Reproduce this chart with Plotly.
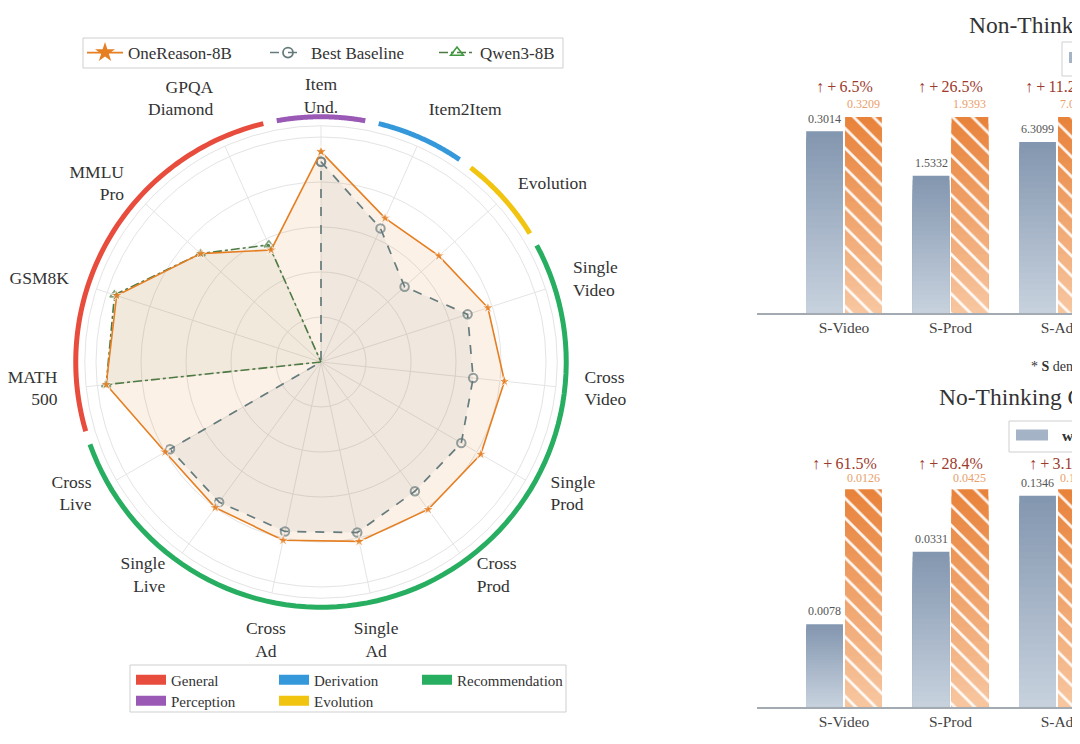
import numpy as np
import plotly.graph_objects as go

FONT = "Liberation Serif"

# ---------------- Radar data (normalised scores, 1.0 = outer grid ring) ----------------
radar_labels = ["Item<br>Und.", "Item2Item", "Evolution", "Single<br>Video", "Cross<br>Video",
                "Single<br>Prod", "Cross<br>Prod", "Single<br>Ad", "Cross<br>Ad", "Single<br>Live",
                "Cross<br>Live", "MATH<br>500", "GSM8K", "MMLU<br>Pro", "GPQA<br>Diamond"]
onereason = [0.935, 0.70, 0.705, 0.78, 0.82, 0.82, 0.81, 0.815, 0.81, 0.80, 0.80, 0.96, 0.955, 0.72, 0.545]
best_baseline = [0.89, 0.65, 0.50, 0.685, 0.68, 0.72, 0.71, 0.775, 0.77, 0.77, 0.775, 0, 0, 0, 0]
qwen3 = [0, 0, 0, 0, 0, 0, 0, 0, 0, 0, 0, 0.96, 0.965, 0.72, 0.57]

group_names = ["General", "Derivation", "Recommendation", "Perception", "Evolution"]
group_members = {
    "Perception": [0],
    "Derivation": [1],
    "Evolution": [2],
    "Recommendation": [3, 4, 5, 6, 7, 8, 9, 10],
    "General": [11, 12, 13, 14],
}

# ---------------- Bar data ----------------
bar_categories = ["S-Video", "S-Prod", "S-Ad"]
nt_base_vals = [0.3014, 1.5332, 6.3099]
nt_ours_vals = [0.3209, 1.9393, 7.0166]
nt_gain = [6.5, 26.5, 11.2]
nt_base_h = [0.927, 0.70, 0.873]      # relative bar heights as drawn
nt_ours_h = [1.0, 1.0, 1.0]

no_base_vals = [0.0078, 0.0331, 0.1346]
no_ours_vals = [0.0126, 0.0425, 0.1388]
no_gain = [61.5, 28.4, 3.1]
no_base_h = [0.379, 0.713, 0.97]
no_ours_h = [1.0, 1.0, 1.0]

bar_series_names = ["w/o Reasoning", "w/ Reasoning"]

# ---------------- layout helpers ----------------
W, H = 1080, 744
OFF = 8  # the page body margin shifts the figure by 8px; positions below are screen pixels


def px(xs):
    return (xs - OFF) / W


def py(ys):
    return 1 - (ys - OFF) / H


C_ONE = "#E67E22"
C_BASE = "#667B7D"
C_QWEN = "#4E7A43"
GROUP_COLORS = {"General": "#E74C3C", "Perception": "#9B59B6", "Derivation": "#3498DB",
                "Evolution": "#F1C40F", "Recommendation": "#27AE60"}

fig = go.Figure()

n = len(radar_labels)
theta = [i * 360.0 / n for i in range(n)]
step = 360.0 / n

# spokes
sr, st = [], []
for t in theta:
    sr += [0, 1.05, None]
    st += [t, t, None]
fig.add_trace(go.Scatterpolar(r=sr, theta=st, mode="lines", line=dict(color="#e4e4e4", width=1),
                              showlegend=False, hoverinfo="skip"))


def closed(v):
    return list(v) + [v[0]]


tc = theta + [theta[0]]
# fills
fig.add_trace(go.Scatterpolar(r=closed(onereason), theta=tc, fill="toself", mode="none",
                              fillcolor="rgba(230,126,34,0.11)", showlegend=False, hoverinfo="skip"))
fig.add_trace(go.Scatterpolar(r=closed(best_baseline), theta=tc, fill="toself", mode="none",
                              fillcolor="rgba(102,123,125,0.08)", showlegend=False, hoverinfo="skip"))
fig.add_trace(go.Scatterpolar(r=closed(qwen3), theta=tc, fill="toself", mode="none",
                              fillcolor="rgba(78,122,67,0.06)", showlegend=False, hoverinfo="skip"))


def msize(v, s):
    return [s if x > 0 else 0 for x in closed(v)]


fig.add_trace(go.Scatterpolar(r=closed(best_baseline), theta=tc, mode="lines+markers",
                              line=dict(color=C_BASE, width=1.7, dash="dash"),
                              marker=dict(symbol="circle-open", size=msize(best_baseline, 8.5), color=C_BASE,
                                          line=dict(width=2)),
                              showlegend=False))
fig.add_trace(go.Scatterpolar(r=closed(qwen3), theta=tc, mode="lines+markers",
                              line=dict(color=C_QWEN, width=1.6, dash="dashdot"),
                              marker=dict(symbol="triangle-up-open", size=msize(qwen3, 8), color=C_QWEN,
                                          line=dict(width=1.6)),
                              showlegend=False))
fig.add_trace(go.Scatterpolar(r=closed(onereason), theta=tc, mode="lines+markers",
                              line=dict(color=C_ONE, width=1.6),
                              marker=dict(symbol="star", size=msize(onereason, 9), color=C_ONE),
                              showlegend=False))


# category labels around the radar
def label_pos(t):
    if t < 12 or t > 348:
        return "middle center"
    if t < 36:
        return "top right"
    if t < 156:
        return "middle right"
    if t < 204:
        return "bottom center"
    if t < 324:
        return "middle left"
    return "top left"


fig.add_trace(go.Scatterpolar(r=[1.178] * n, theta=theta, mode="text", text=radar_labels,
                              textposition=[label_pos(t) for t in theta],
                              textfont=dict(family=FONT, size=17.5, color="#333333"),
                              showlegend=False, hoverinfo="skip"))

# legend entries for the series
fig.add_trace(go.Scatterpolar(r=[None], theta=[None], mode="lines+markers", name="OneReason-8B",
                              line=dict(color=C_ONE, width=1.8), legendwidth=132,
                              marker=dict(symbol="star", size=15, color=C_ONE), legend="legend"))
fig.add_trace(go.Scatterpolar(r=[None], theta=[None], mode="lines+markers", name="Best Baseline",
                              line=dict(color=C_BASE, width=1.6, dash="dash"), legendwidth=118,
                              marker=dict(symbol="circle-open", size=10, color=C_BASE, line=dict(width=1.8)),
                              legend="legend"))
fig.add_trace(go.Scatterpolar(r=[None], theta=[None], mode="lines+markers", name="Qwen3-8B",
                              line=dict(color=C_QWEN, width=1.6, dash="dashdot"), legendwidth=80,
                              marker=dict(symbol="triangle-up-open", size=11, color="#3f9a3f",
                                          line=dict(width=1.6)),
                              legend="legend"))

# group arcs
GAP = 1.6
for g in group_names:
    idx = group_members[g]
    a0 = idx[0] * step - step / 2 + GAP
    a1 = idx[-1] * step + step / 2 - GAP
    th = np.linspace(a0, a1, 80)
    fig.add_trace(go.Scatterpolar(r=[1.09] * len(th), theta=th, mode="lines",
                                  line=dict(color=GROUP_COLORS[g], width=5),
                                  showlegend=False, hoverinfo="skip"))

for k, g in enumerate(group_names):
    fig.add_trace(go.Scatterpolar(r=[None], theta=[None], mode="lines", name=g,
                                  line=dict(color=GROUP_COLORS[g], width=10),
                                  legendwidth=98 if k % 3 < 2 else 125,
                                  legend="legend2" if k < 3 else "legend3"))

RMAX = 1.35
PX_PER_UNIT = 225.0
CX, CY = 321.0, 362.0
P = RMAX * PX_PER_UNIT
fig.update_layout(
    polar=dict(
        domain=dict(x=[px(CX - P), px(CX + P)], y=[py(CY + P), py(CY - P)]),
        bgcolor="rgba(0,0,0,0)",
        radialaxis=dict(range=[0, RMAX], tickmode="array", tickvals=[0.2, 0.4, 0.6, 0.8, 1.0, 1.05],
                        showticklabels=False, showline=False, ticks="", gridcolor="#e4e4e4", gridwidth=1),
        angularaxis=dict(type="linear", thetaunit="degrees", direction="clockwise", rotation=90,
                         tickmode="array", tickvals=theta, showticklabels=False, showgrid=False,
                         showline=False, ticks=""),
    )
)

# ---------------- Bars ----------------
NSEG = 30
GRAY_TOP, GRAY_BOT = (130, 150, 175), (200, 210, 222)
OR_TOP, OR_BOT = (232, 130, 58), (247, 198, 160)


def lerp(c0, c1, f):
    return "rgb(%d,%d,%d)" % tuple(round(a + (b - a) * f) for a, b in zip(c0, c1))


x_pos = list(range(len(bar_categories)))
BW = 0.345


def add_gradient_bars(heights, xa, ya, offset, ctop, cbot, hatch):
    # overlapping bars from 0 up to a shrinking fraction of the height -> vertical gradient
    for j in range(NSEG):
        frac = 1 - j / NSEG
        marker = dict(color=lerp(cbot, ctop, frac - 0.5 / NSEG), line=dict(width=0))
        if hatch:
            marker["pattern"] = dict(shape="\\", fgcolor="white", fgopacity=0.9, size=14,
                                     solidity=0.2, fillmode="overlay")
        fig.add_trace(go.Bar(x=x_pos, y=[h * frac for h in heights],
                             width=BW, offset=offset, marker=marker, xaxis=xa, yaxis=ya,
                             showlegend=False, hoverinfo="skip"))


add_gradient_bars(nt_base_h, "x", "y", -0.355, GRAY_TOP, GRAY_BOT, False)
add_gradient_bars(nt_ours_h, "x", "y", 0.01, OR_TOP, OR_BOT, True)
add_gradient_bars(no_base_h, "x2", "y2", -0.355, GRAY_TOP, GRAY_BOT, False)
add_gradient_bars(no_ours_h, "x2", "y2", 0.01, OR_TOP, OR_BOT, True)

annotations = []
TH = "\u2009"


def bar_labels(base_h, ours_h, base_v, ours_v, gain, xr, yr, sh_b, sh_o, sh_p):
    for i in x_pos:
        annotations.append(dict(x=i - 0.18, y=base_h[i], xref=xr, yref=yr, text="%.4f" % base_v[i],
                                showarrow=False, yanchor="middle", yshift=sh_b,
                                font=dict(family=FONT, size=12, color="#555555")))
        annotations.append(dict(x=i + 0.18, y=ours_h[i], xref=xr, yref=yr, text="%.4f" % ours_v[i],
                                showarrow=False, yanchor="middle", yshift=sh_o,
                                font=dict(family=FONT, size=12, color="#E9A06B")))
        annotations.append(dict(x=i, y=ours_h[i], xref=xr, yref=yr,
                                text="↑" + TH + "+" + TH + "%.1f%%" % gain[i],
                                showarrow=False, yanchor="middle", yshift=sh_p,
                                font=dict(family=FONT, size=16, color="#9C3B2C")))


bar_labels(nt_base_h, nt_ours_h, nt_base_vals, nt_ours_vals, nt_gain, "x", "y", 12.5, 13, 30)
bar_labels(no_base_h, no_ours_h, no_base_vals, no_ours_vals, no_gain, "x2", "y2", 13, 11.5, 25.5)

annotations += [
    dict(x=px(967), y=py(25), xref="paper", yref="paper", xanchor="left", yanchor="middle",
         text="Non-Thinking Mode", showarrow=False, font=dict(family=FONT, size=23.5, color="#333333")),
    dict(x=px(937), y=py(397), xref="paper", yref="paper", xanchor="left", yanchor="middle",
         text="No-Thinking Compression", showarrow=False, font=dict(family=FONT, size=23.5, color="#333333")),
    dict(x=px(1029), y=py(366), xref="paper", yref="paper", xanchor="left", yanchor="middle",
         text="* <b>S</b> denotes Single-domain", showarrow=False,
         font=dict(family=FONT, size=14, color="#333333")),
]

shapes = [
    dict(type="rect", xref="paper", yref="paper", x0=px(130), x1=px(566), y0=py(712),
         y1=py(665), line=dict(color="#cfcfcf", width=1), fillcolor="rgba(0,0,0,0)", layer="below"),
    dict(type="rect", xref="paper", yref="paper", x0=px(83), x1=px(563), y0=py(68),
         y1=py(38), line=dict(color="#cfcfcf", width=1), fillcolor="rgba(0,0,0,0)", layer="below"),
]

# bar-chart legends (boxes + swatches + text, they run off the right edge)
BAR_SWATCH = ["#A4B3C6", "#EE9A5A"]
for (bx, by0, by1) in [(1062, 42, 76), (1009, 421, 452)]:
    cy = (by0 + by1) / 2 - 1.5
    shapes.append(dict(type="rect", xref="paper", yref="paper", x0=px(bx), x1=px(bx + 260),
                       y0=py(by1), y1=py(by0), line=dict(color="#cfcfcf", width=1),
                       fillcolor="white", layer="above"))
    xcur = bx + 7
    for name, col in zip(bar_series_names, BAR_SWATCH):
        shapes.append(dict(type="rect", xref="paper", yref="paper", x0=px(xcur), x1=px(xcur + 32),
                           y0=py(cy + 5.5), y1=py(cy - 5.5), line=dict(width=0),
                           fillcolor=col, layer="above"))
        annotations.append(dict(x=px(xcur + 44), y=py(cy), xref="paper", yref="paper",
                                xanchor="left", yanchor="middle", text="<b>%s</b>" % name, showarrow=False,
                                font=dict(family=FONT, size=15.5, color="#333333")))
        xcur += 170

# x positions: category i sits at screen pixel 844 + 106.5*i ; axis starts at 757
X0_PX, X_UNIT = 844.0, 106.5
X_RANGE = [(757 - X0_PX) / X_UNIT, (1080 + OFF - X0_PX) / X_UNIT]
xcommon = dict(domain=[px(757), 1.0], range=X_RANGE, tickmode="array", tickvals=x_pos, ticktext=bar_categories,
               showline=True, linecolor="#A3AAB2", linewidth=1.5, ticks="", showgrid=False, zeroline=False,
               tickfont=dict(family=FONT, size=15.5, color="#444444"))
fig.update_layout(
    xaxis=dict(anchor="y", **xcommon),
    yaxis=dict(domain=[py(313), py(60)], range=[0, 253 / 196], visible=False, anchor="x"),
    xaxis2=dict(anchor="y2", **xcommon),
    yaxis2=dict(domain=[py(706.7), py(430)], range=[0, 276.7 / 217.4], visible=False, anchor="x2"),
    barmode="overlay",
)

fig.update_layout(
    width=W, height=H, margin=dict(l=0, r=0, t=0, b=0),
    paper_bgcolor="white", plot_bgcolor="white",
    font=dict(family=FONT),
    annotations=annotations,
    shapes=shapes,
    legend=dict(x=px(82), xanchor="left", y=py(53), yanchor="middle", orientation="h",
                font=dict(family=FONT, size=17, color="#333333"), itemwidth=36,
                bgcolor="rgba(0,0,0,0)", borderwidth=0),
    legend2=dict(x=px(131), xanchor="left", y=py(680), yanchor="middle", orientation="h",
                 font=dict(family=FONT, size=15, color="#333333"),
                 bgcolor="rgba(0,0,0,0)", borderwidth=0),
    legend3=dict(x=px(131), xanchor="left", y=py(701), yanchor="middle", orientation="h",
                 font=dict(family=FONT, size=15, color="#333333"),
                 bgcolor="rgba(0,0,0,0)", borderwidth=0),
)

fig.write_html("out.html")
